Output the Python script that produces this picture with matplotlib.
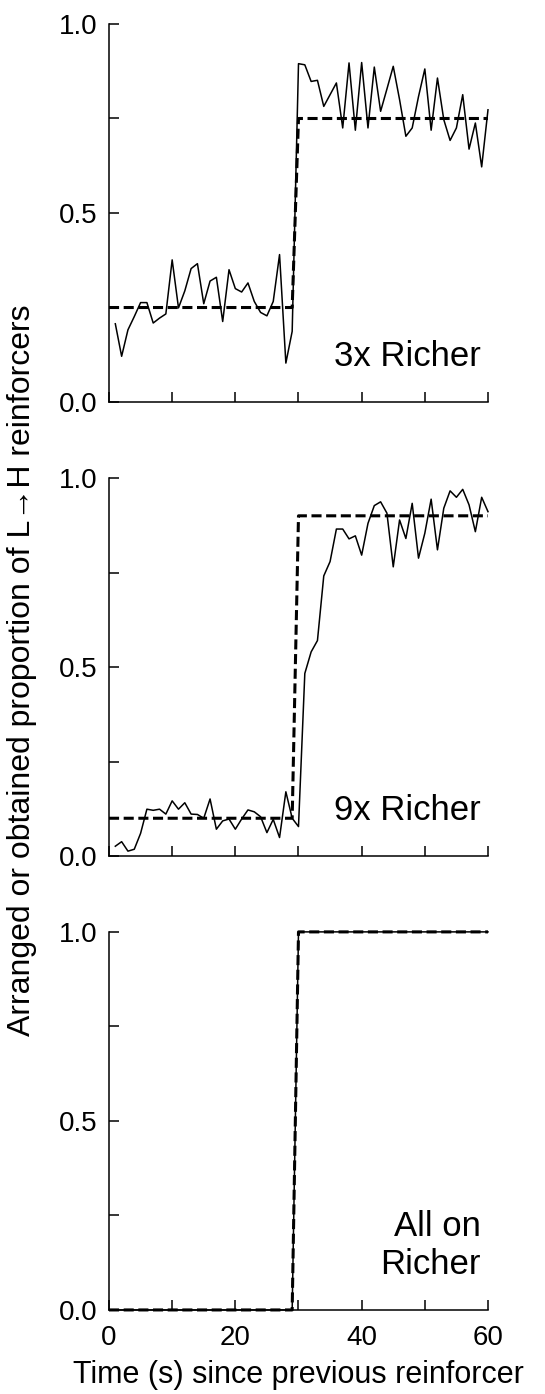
import matplotlib
matplotlib.use("Agg")
import matplotlib.pyplot as plt

plt.rcParams['font.family'] = ['Liberation Sans', 'DejaVu Sans']

# seconds since the previous reinforcer (1..60)
seconds = list(range(1, 61))

# arranged proportions: step between 29 s and 30 s
arranged_t = [0, 29, 30, 60]
arranged_3x = [0.25, 0.25, 0.75, 0.75]
arranged_9x = [0.10, 0.10, 0.90, 0.90]
arranged_all = [0.0, 0.0, 1.0, 1.0]

# obtained proportions
obtained_3x = [0.207, 0.121, 0.191, 0.226, 0.263, 0.263, 0.209, 0.222, 0.233, 0.376,
               0.249, 0.294, 0.353, 0.366, 0.260, 0.320, 0.330, 0.213, 0.350, 0.300,
               0.291, 0.315, 0.266, 0.237, 0.228, 0.266, 0.390, 0.103, 0.187, 0.895,
               0.892, 0.848, 0.851, 0.782, 0.813, 0.844, 0.725, 0.897, 0.719, 0.898,
               0.725, 0.886, 0.769, 0.828, 0.888, 0.800, 0.703, 0.725, 0.808, 0.881,
               0.719, 0.857, 0.747, 0.692, 0.725, 0.813, 0.669, 0.738, 0.622, 0.773]
obtained_9x = [0.026, 0.038, 0.013, 0.018, 0.060, 0.124, 0.121, 0.124, 0.111, 0.146,
               0.124, 0.141, 0.111, 0.110, 0.100, 0.151, 0.071, 0.093, 0.098, 0.071,
               0.098, 0.122, 0.117, 0.104, 0.062, 0.097, 0.049, 0.170, 0.100, 0.078,
               0.483, 0.540, 0.570, 0.741, 0.779, 0.865, 0.865, 0.839, 0.847, 0.796,
               0.880, 0.927, 0.937, 0.907, 0.765, 0.889, 0.840, 0.933, 0.788, 0.854,
               0.944, 0.810, 0.920, 0.966, 0.949, 0.970, 0.929, 0.858, 0.949, 0.911]
obtained_all = [0.0, 0.0, 0.0, 0.0, 0.0, 0.0, 0.0, 0.0, 0.0, 0.0,
                0.0, 0.0, 0.0, 0.0, 0.0, 0.0, 0.0, 0.0, 0.0, 0.0,
                0.0, 0.0, 0.0, 0.0, 0.0, 0.0, 0.0, 0.0, 0.0, 1.0,
                1.0, 1.0, 1.0, 1.0, 1.0, 1.0, 1.0, 1.0, 1.0, 1.0,
                1.0, 1.0, 1.0, 1.0, 1.0, 1.0, 1.0, 1.0, 1.0, 1.0,
                1.0, 1.0, 1.0, 1.0, 1.0, 1.0, 1.0, 1.0, 1.0, 1.0]

panel_labels = ['3x Richer', '9x Richer', 'All on\nRicher']
x_ticks = [0, 10, 20, 30, 40, 50, 60]
x_ticklabels = ['0', '', '20', '', '40', '', '60']
y_ticks = [0, 0.25, 0.5, 0.75, 1.0]
y_ticklabels = ['0.0', '', '0.5', '', '1.0']

fig = plt.figure(figsize=(5.45, 13.94), dpi=100)
bottoms = [0.7116, 0.3859, 0.0603]
panels = [(obtained_3x, arranged_3x), (obtained_9x, arranged_9x), (obtained_all, arranged_all)]

for i, ((obt, arr), label, bottom) in enumerate(zip(panels, panel_labels, bottoms)):
    ax = fig.add_axes([0.2, bottom, 0.6954, 0.2712])
    ax.plot(seconds, obt, color='black', lw=1.1, zorder=2, clip_on=False)
    ax.plot(arranged_t, arr, color='black', lw=2.2, dashes=(3.3, 1.5), zorder=3,
            clip_on=False)
    ax.set_xlim(0, 60)
    ax.set_ylim(0, 1)
    ax.spines['top'].set_visible(False)
    ax.spines['right'].set_visible(False)
    ax.spines['left'].set_linewidth(1.1)
    ax.spines['bottom'].set_linewidth(1.1)
    ax.set_xticks(x_ticks)
    ax.set_yticks(y_ticks)
    ax.set_yticklabels(y_ticklabels)
    if i == 2:
        ax.set_xticklabels(x_ticklabels)
        ax.set_xlabel('Time (s) since previous reinforcer', fontsize=22, labelpad=6)
    else:
        ax.set_xticklabels([])
    ax.tick_params(direction='in', length=7, width=1.1, labelsize=20)
    ax.tick_params(axis='y', pad=8)
    ax.tick_params(axis='x', pad=11)
    ax.text(0.98, 0.095, label, transform=ax.transAxes, ha='right', va='baseline',
            fontsize=25, linespacing=1.2, multialignment='right')

fig.text(0.04, 0.519, 'Arranged or obtained proportion of L\u2192H reinforcers',
         rotation=90, ha='center', va='center', fontsize=23)

fig.savefig('out.png', dpi=100)
